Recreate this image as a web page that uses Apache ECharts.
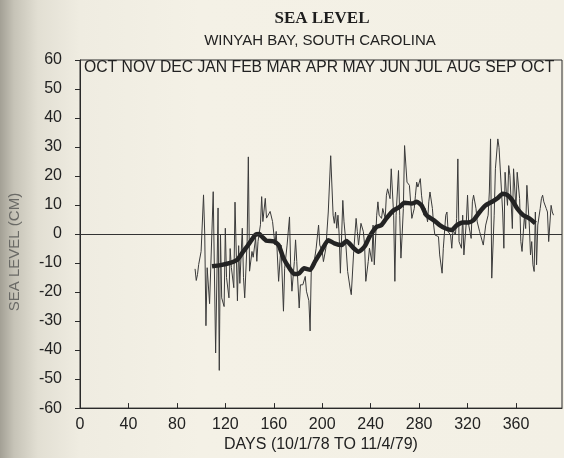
<!DOCTYPE html>
<html>
<head>
<meta charset="utf-8">
<script src="https://cdn.jsdelivr.net/npm/echarts@6/dist/echarts.min.js"></script>
<style>
html,body{margin:0;padding:0;width:564px;height:458px;overflow:hidden;}
body{background:linear-gradient(to right,#a3a095 0px,#c6c3b7 14px,#e2dfd3 38px,#efece1 80px,#f4f1e6 200px,#f3f0e5 564px);}
#chart{width:564px;height:458px;}
</style>
</head>
<body>
<div id="chart"></div>
<script>
// Daily sea level (cm) – thin noisy trace
const dailyDays = [95,96,97,98,100,102,103,104,105,107,110,112,114,115,116,117,119,120,121,123,124,125,127,128,130,131,132,134,135,136,138,139,140,142,143,145,146,147,149,150,151,153,154,157,159,161,162,164,166,168,169,171,173,174,175,177,178,179,181,182,184,186,187,189,190,191,193,195,197,198,200,201,203,205,207,209,210,211,212,213,214,215,217,218,219,221,223,224,226,228,229,230,232,234,235,236,238,239,241,242,243,245,246,247,249,250,252,253,254,256,257,259,260,261,263,264,265,266,267,268,270,272,273,274,276,277,278,279,281,282,284,285,287,288,289,291,292,293,296,297,299,300,302,303,304,306,307,308,310,311,312,313,315,316,317,319,320,321,323,324,325,327,328,330,333,335,337,338,339,340,342,343,345,346,347,349,350,351,352,353,354,355,357,358,360,361,363,364,365,367,368,369,371,372,373,374,375,376,377,378,380,381,382,383,385,386,387,389,390,391];
const dailyLevels = [-12,-16,-14,-10.5,-6,13.5,0,-31.6,-11.6,-24,14.6,-41,9,-47,0,-22,-25,2,-15,-22,-5,-11.6,-18.5,11,-23,-4,-17,2,-15,-22,-2.5,26.6,-12.8,-6,-8,-1.4,-9.4,-2.5,3.2,12.9,4.3,12.3,5.5,7.8,4.3,-3.7,0.9,-16.3,-3.8,-26.6,-11.8,-3.8,5.9,-11.8,-19.7,-9.5,-2,-9.5,-25.5,-17.5,-17.5,-14.6,-19.7,-23,-33.4,-11.8,-10.6,-4.9,3.1,-3.8,-6,-9.5,-4.9,7.6,27,6.5,3.7,7.6,2,6.5,-0.3,-13.5,11.6,4.2,-0.3,-12.9,-18.6,-20.9,-6,5.4,0.8,-3.8,3.7,0.8,-3.8,-16.3,-9.5,-4.9,-9.5,3.1,-10.6,6.5,11.1,6.5,5.4,8.8,5.4,13.4,15.6,12.2,22.5,6.5,-16.3,6.5,21.9,6.5,-8.3,-0.3,8.8,30.5,17.9,16.8,11.1,5.4,8.8,13.4,17.9,16.2,19.1,13.4,6.5,8.8,4.2,11.1,14.5,8.8,3.1,-0.3,-0.9,-7.2,-13.5,-4.9,6.5,7.6,0.8,-0.3,-4.9,1.4,-0.3,5.4,25.9,-2.6,-4.9,6.5,-7.2,4.2,13.4,3.1,-1.5,11.1,13.4,8.8,4.2,0.8,-3.8,3.1,6.5,14.5,32.8,-15.2,6.5,22.5,32.8,29.9,29.3,7.6,-4.9,21.3,14.5,9.9,23.6,20.2,1.9,22.5,8.8,21.3,12.2,-2.6,-6,6.5,1.9,16.8,3.1,-7.2,-2.6,-10.6,-12.9,7.6,-10.6,3.1,8.8,12.2,13.4,11.1,8.8,7.6,-2.6,9.9,7.6,6.5];

// Smoothed sea level (cm) – thick trace
const smoothDays = [109,116,124,130,135,139,145,148,150,154,160,164,168,173,177,181,185,190,194,199,205,210,216,220,226,230,235,239,243,245,249,253,259,264,268,274,278,282,286,292,297,302,307,311,316,321,325,330,335,341,345,349,353,357,361,366,371,376];
const smoothLevels = [-11.1,-10.7,-9.9,-8.8,-5.9,-3.7,-0.2,0,-0.8,-2.3,-2.5,-3.8,-8.3,-11.8,-13.8,-13.5,-11.8,-12.3,-9.5,-6.1,-2.1,-3.2,-3.8,-2.4,-4.9,-6.1,-4.3,-1,1.6,2.5,3.1,5.4,8.2,9.4,10.8,10.5,11.1,9.9,6.5,4.8,3.1,1.9,1.4,3,4,4,4.8,7.6,9.9,11.3,12.4,13.9,13.4,11.6,8.8,6.5,5.4,3.7];

// Month labels along the top of the frame
const monthLabels = ['OCT','NOV','DEC','JAN','FEB','MAR','APR','MAY','JUN','JUL','AUG','SEP','OCT'];

const pair = (xs, ys) => xs.map((d, i) => [d, ys[i]]);
const ink = '#2a2a2a';
const font = '"Liberation Sans", Arial, sans-serif';

const plotLeft = 80, plotRight = 562, plotTop = 60;

const chart = echarts.init(document.getElementById('chart'), null, {renderer: 'canvas'});
chart.setOption({
  backgroundColor: 'transparent',
  animation: false,
  textStyle: {fontFamily: font},
  grid: {left: plotLeft, right: 564 - plotRight, top: plotTop, bottom: 47, show: true, borderColor: ink, borderWidth: 1, backgroundColor: 'transparent'},
  graphic: [
    {type: 'text', x: 322, y: 19, style: {text: 'SEA LEVEL', font: 'bold 17px "Liberation Serif", "DejaVu Serif", serif', fill: '#1e1e1e', textAlign: 'center', textVerticalAlign: 'middle'}},
    {type: 'text', x: 320, y: 41, style: {text: 'WINYAH BAY, SOUTH CAROLINA', font: '15px ' + font, fill: '#222', textAlign: 'center', textVerticalAlign: 'middle'}},
    {type: 'text', x: 15, y: 252, rotation: Math.PI / 2, style: {text: 'SEA LEVEL (CM)', font: '15px ' + font, fill: '#6a6a66', textAlign: 'center', textVerticalAlign: 'middle'}},
    {type: 'text', x: 84, y: 68, scaleX: 0.982, style: {text: monthLabels.join(' '), font: '16px ' + font, fill: '#222', textAlign: 'left', textVerticalAlign: 'middle'}}
  ],
  xAxis: {
    type: 'value', min: 0, max: 398, interval: 40,
    name: 'DAYS (10/1/78 TO 11/4/79)', nameLocation: 'middle', nameGap: 25,
    nameTextStyle: {fontSize: 16, color: '#222', fontFamily: font},
    axisLine: {show: true, onZero: false, lineStyle: {color: ink, width: 1}},
    axisTick: {show: true, inside: true, length: 5, lineStyle: {color: ink}},
    axisLabel: {fontSize: 16, color: '#222', margin: 8, showMaxLabel: false, fontFamily: font},
    splitLine: {show: false}
  },
  yAxis: {
    type: 'value', min: -60, max: 60, interval: 10,
    axisLine: {show: true, onZero: false, lineStyle: {color: ink, width: 1}},
    axisTick: {show: true, inside: false, length: 5, lineStyle: {color: ink}},
    axisLabel: {fontSize: 16, color: '#222', margin: 18, fontFamily: font},
    splitLine: {show: false}
  },
  series: [
    {
      name: 'daily', type: 'line', data: pair(dailyDays, dailyLevels),
      showSymbol: false, symbol: 'none', lineStyle: {color: '#3a3a3a', width: 1}, z: 2,
      markLine: {silent: true, symbol: 'none', label: {show: false},
        lineStyle: {color: '#333', width: 1, type: 'solid'}, data: [{yAxis: 0}]}
    },
    {
      name: 'smoothed', type: 'line', data: pair(smoothDays, smoothLevels),
      showSymbol: false, symbol: 'none', smooth: 0.2, lineStyle: {color: '#232323', width: 4.5}, z: 3
    }
  ]
});
</script>
</body>
</html>
